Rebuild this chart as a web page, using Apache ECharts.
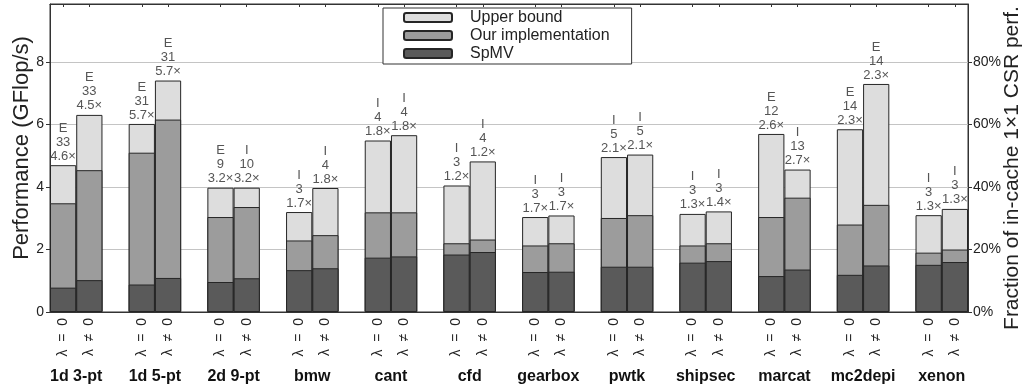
<!DOCTYPE html>
<html>
<head>
<meta charset="utf-8">
<script src="https://cdn.jsdelivr.net/npm/echarts@6/dist/echarts.min.js"></script>
<style>
  html, body { margin: 0; padding: 0; background: #fff; }
  #chart { width: 1025px; height: 391px; }
</style>
</head>
<body>
<div id="chart"></div>
<script>
// Matrices / stencils, two runs each (lambda = 0 and lambda != 0)
const groups = ['1d 3-pt', '1d 5-pt', '2d 9-pt', 'bmw', 'cant', 'cfd',
                'gearbox', 'pwtk', 'shipsec', 'marcat', 'mc2depi', 'xenon'];
const lambdaLabels = ['\u03bb  =  0', '\u03bb  \u2260  0'];

// Performance in GFlop/s, one value per bar (group order, lambda = 0 first)
const spmv = [0.78, 1.02, 0.88, 1.09, 0.96, 1.08, 1.34, 1.40, 1.74, 1.78, 1.84, 1.92,
              1.28, 1.29, 1.45, 1.45, 1.58, 1.63, 1.15, 1.36, 1.19, 1.49, 1.51, 1.60];
const ours = [3.48, 4.54, 5.10, 6.16, 3.04, 3.36, 2.29, 2.46, 3.19, 3.19, 2.20, 2.32,
              2.13, 2.20, 3.01, 3.10, 2.13, 2.20, 3.04, 3.66, 2.80, 3.43, 1.90, 2.00];
const upper = [4.70, 6.31, 6.02, 7.41, 3.98, 3.98, 3.20, 3.97, 5.49, 5.66, 4.05, 4.82,
               3.04, 3.09, 4.96, 5.04, 3.14, 3.22, 5.70, 4.56, 5.85, 7.30, 3.10, 3.30];

// Annotation per bar: explicit/implicit, block size, speedup over SpMV
const method = ['E', 'E', 'E', 'E', 'E', 'I', 'I', 'I', 'I', 'I', 'I', 'I',
                'I', 'I', 'I', 'I', 'I', 'I', 'E', 'I', 'E', 'E', 'I', 'I'];
const blockSize = [33, 33, 31, 31, 9, 10, 3, 4, 4, 4, 3, 4,
                   3, 3, 5, 5, 3, 3, 12, 13, 14, 14, 3, 3];
const speedup = ['4.6', '4.5', '5.7', '5.7', '3.2', '3.2', '1.7', '1.8', '1.8', '1.8', '1.2', '1.2',
                 '1.7', '1.7', '2.1', '2.1', '1.3', '1.4', '2.6', '2.7', '2.3', '2.3', '1.3', '1.3'];

const yTicks = [0, 2, 4, 6, 8];

// Slots along the category axis: bar, bar, gap, bar, bar, gap, ..., bar, bar
const slotBar = [];
groups.forEach((g, gi) => {
  slotBar.push(gi * 2, gi * 2 + 1);
  if (gi < groups.length - 1) slotBar.push(-1);
});
const slotNames = slotBar.map((b, i) => 's' + i);
const toSlots = arr => slotBar.map(b => (b < 0 ? null : arr[b]));
const groupCenters = groups.map((g, gi) => gi * 3 + 0.5);

const C_UPPER = '#dddddd', C_OURS = '#9c9c9c', C_SPMV = '#5a5a5a', C_EDGE = '#262626';
const FONT = '"Liberation Sans", Arial, sans-serif';
const YMAX = 9.86;

const chart = echarts.init(document.getElementById('chart'), null, { renderer: 'canvas' });

const barCommon = {
  type: 'bar',
  xAxisIndex: 0,
  yAxisIndex: 0,
  barGap: '-100%',
  barCategoryGap: '0%',
  animation: false
};

chart.setOption({
  backgroundColor: '#ffffff',
  textStyle: { fontFamily: FONT },
  grid: { left: 50, right: 57, top: 4, bottom: 79, show: true, borderColor: '#333', borderWidth: 1,
          containLabel: false, outerBoundsMode: 'none' },
  legend: {
    orient: 'vertical',
    left: 383,
    top: 8,
    itemWidth: 48,
    itemHeight: 9,
    itemGap: 1,
    padding: [1, 22, 2, 20],
    borderColor: '#333',
    borderWidth: 1,
    backgroundColor: '#fff',
    textStyle: { fontFamily: FONT, fontSize: 16, color: '#222', lineHeight: 17,
                 padding: [0, 0, 0, 13] },
    data: ['Upper bound', 'Our implementation', 'SpMV']
  },
  xAxis: [
    {
      type: 'category',
      data: slotNames,
      boundaryGap: true,
      axisLine: { show: true, lineStyle: { color: '#333' } },
      axisTick: { show: true, inside: true, length: 3, alignWithLabel: true,
                  interval: i => slotBar[i] >= 0, lineStyle: { color: '#333' } },
      axisLabel: {
        interval: 0, rotate: 90, margin: 6, fontSize: 14, color: '#222', fontFamily: FONT,
        formatter: (v, i) => (slotBar[i] < 0 ? '' : lambdaLabels[slotBar[i] % 2])
      },
      splitLine: { show: false }
    },
    {
      type: 'value',
      position: 'bottom',
      offset: 50,
      min: -0.5,
      max: slotBar.length - 0.5,
      axisLine: { show: false },
      axisTick: { show: false },
      splitLine: { show: false },
      axisLabel: {
        customValues: groupCenters, margin: 7, fontSize: 16, fontWeight: 'bold', color: '#111',
        fontFamily: FONT,
        formatter: v => groups[Math.round((v - 0.5) / 3)]
      }
    },
    {
      type: 'category',
      data: slotNames,
      position: 'top',
      boundaryGap: true,
      axisLine: { show: true, lineStyle: { color: '#333' } },
      axisTick: { show: true, inside: true, length: 3, alignWithLabel: true,
                  interval: i => slotBar[i] >= 0, lineStyle: { color: '#333' } },
      axisLabel: { show: false },
      splitLine: { show: false }
    }
  ],
  yAxis: [
    {
      type: 'value',
      min: 0,
      max: YMAX,
      interval: 2,
      name: 'Performance (GFlop/s)',
      nameLocation: 'middle',
      nameRotate: 90,
      nameGap: 17,
      nameMoveOverlap: false,
      nameTextStyle: { fontSize: 22, color: '#222', fontFamily: FONT, padding: [0, 0, 0, 20] },
      axisLine: { show: true, onZero: false, lineStyle: { color: '#333' } },
      axisTick: { show: true, length: 4, lineStyle: { color: '#333' } },
      axisLabel: { fontSize: 14, color: '#222', margin: 6, showMaxLabel: false,
                   formatter: v => (yTicks.indexOf(v) >= 0 ? String(v) : '') },
      splitLine: { show: true, lineStyle: { color: '#c4c4c4', width: 1 } }
    },
    {
      type: 'value',
      min: 0,
      max: YMAX * 10,
      interval: 20,
      position: 'right',
      name: 'Fraction of in-cache 1\u00d71 CSR perf.',
      nameLocation: 'middle',
      nameRotate: 90,
      nameGap: 34,
      nameMoveOverlap: false,
      nameTextStyle: { fontSize: 21, color: '#222', fontFamily: FONT, padding: [0, 20, 0, 0] },
      axisLine: { show: true, onZero: false, lineStyle: { color: '#333' } },
      axisTick: { show: true, length: 4, lineStyle: { color: '#333' } },
      axisLabel: { fontSize: 14, color: '#222', margin: 5, showMaxLabel: false,
                   formatter: v => (v % 20 === 0 ? v + '%' : '') },
      splitLine: { show: false }
    }
  ],
  series: [
    Object.assign({}, barCommon, {
      name: 'Upper bound',
      data: toSlots(upper),
      itemStyle: { color: C_UPPER, borderColor: C_EDGE, borderWidth: 1 },
      label: {
        show: true,
        position: 'top',
        distance: 2,
        fontSize: 13,
        lineHeight: 14,
        color: '#555',
        fontFamily: FONT,
        formatter: p => {
          const b = slotBar[p.dataIndex];
          return method[b] + '\n' + blockSize[b] + '\n' + speedup[b] + '\u00d7';
        }
      }
    }),
    Object.assign({}, barCommon, {
      name: 'Our implementation',
      data: toSlots(ours),
      itemStyle: { color: C_OURS, borderColor: C_EDGE, borderWidth: 1 }
    }),
    Object.assign({}, barCommon, {
      name: 'SpMV',
      data: toSlots(spmv),
      itemStyle: { color: C_SPMV, borderColor: C_EDGE, borderWidth: 1 }
    })
  ]
});
</script>
</body>
</html>
